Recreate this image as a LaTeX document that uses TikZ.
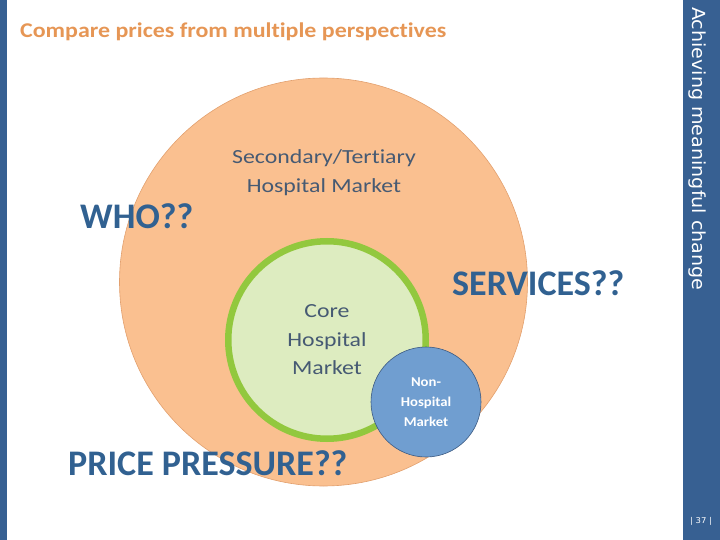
\documentclass[tikz,border=0pt]{standalone}
\usepackage{fontspec}
\setmainfont[Ligatures=NoCommon]{Carlito}
\newfontfamily\sidefont[FakeStretch=1.06]{DejaVu Sans}
\newfontfamily\titlefont[FakeStretch=1.14,Ligatures=NoCommon]{Carlito}
\newfontfamily\mktfont[FakeStretch=1.19,Ligatures=NoCommon]{Carlito}
\newfontfamily\nonfont[FakeStretch=1.09,Ligatures=NoCommon]{Carlito}
\usepackage{xcolor}
\usepackage{tikz}
\usetikzlibrary{shapes,positioning}
\definecolor{barblue}{RGB}{55,96,146}
\definecolor{titleorange}{RGB}{230,150,85}
\definecolor{peach}{RGB}{250,192,144}
\definecolor{peachline}{RGB}{226,160,110}
\definecolor{bigblue}{RGB}{49,97,145}
\definecolor{greyblue}{RGB}{70,90,115}
\definecolor{leaf}{RGB}{146,200,62}
\definecolor{leaflight}{RGB}{221,236,192}
\definecolor{skyblue}{RGB}{112,158,208}
\definecolor{skyline}{RGB}{60,90,130}
\tikzset{ring/.style={circle,inner sep=0pt},
         big/.style={font=\fontsize{36}{40}\selectfont\bfseries,text=bigblue,inner sep=0pt,anchor=base west},
         mkt/.style={font=\mktfont\fontsize{20}{28.5}\selectfont,text=greyblue,align=center,inner sep=0pt}}

\begin{document}
\begin{tikzpicture}[x=1pt,y=-1pt]
    \useasboundingbox (0,0) rectangle (720,540);
    \fill[barblue] (0,0) rectangle (7,540);
    \fill[barblue] (683,0) rectangle (720,540);

    \node[anchor=base west,inner sep=0pt,text=titleorange,font=\titlefont\fontsize{21}{24}\selectfont\bfseries] (title) at (20,37.5) {Compare prices from multiple perspectives};
    \node[anchor=base west,inner sep=0pt,rotate=-90,text=white,font=\sidefont\fontsize{18}{20}\selectfont] (side) at (692,7) {Achieving meaningful change};
    \node[anchor=base,inner sep=0pt,text=white,font=\sidefont\fontsize{8}{9}\selectfont] (page) at (701,523) {| 37 |};

    \node[ring,fill=peach,draw=peachline,line width=0.6pt,minimum size=408pt] (sec) at (323.5,282) {};
    \node[ring,fill=leaflight,draw=leaf,line width=6.5pt,minimum size=197.5pt,mkt] (core) at (327,340) {Core\\Hospital\\Market};
    \node[ring,fill=skyblue,draw=skyline,line width=0.6pt,minimum size=110pt,text=white,align=center,font=\nonfont\fontsize{13.5}{20}\selectfont\bfseries] (non) at (426,402) {Non-\\Hospital\\Market};

    \node[mkt] (sectxt) at (324,172.5) {Secondary/Tertiary\\Hospital Market};
    \node[big] (who) at (80,229) {WHO??};
    \node[big] (serv) at (452,295) {SERVICES??};
    \node[big] (price) at (68,475) {PRICE PRESSURE??};
\end{tikzpicture}
\end{document}
